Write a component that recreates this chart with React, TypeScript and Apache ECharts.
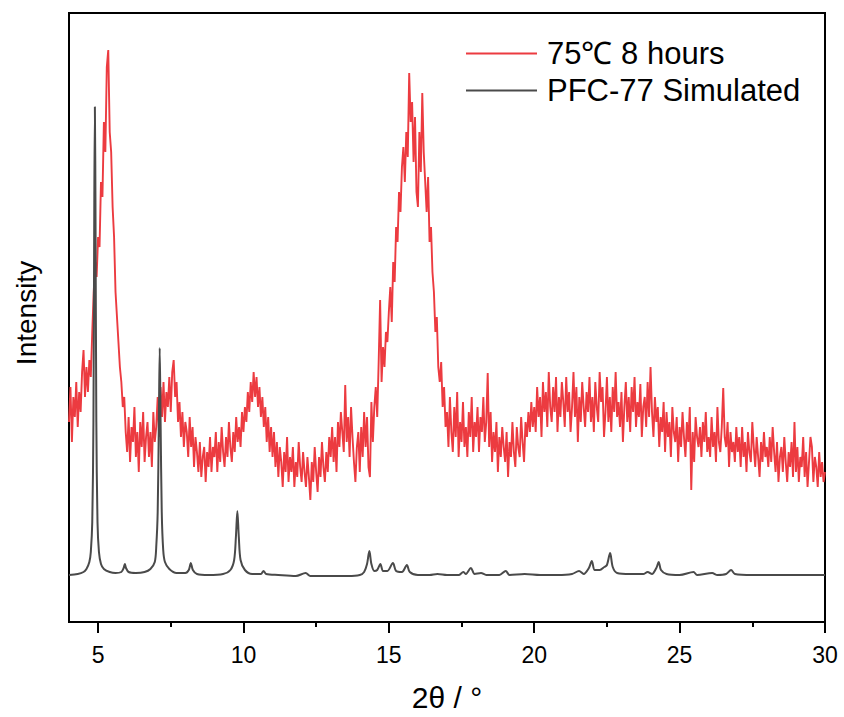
import React, { useEffect, useRef } from "react";
import * as echarts from "echarts";

// 2θ tick labels
const xTicks = [5, 10, 15, 20, 25, 30];
const xMinorTicks = [7.5, 12.5, 17.5, 22.5, 27.5];

// "75℃ 8 hours" pattern, sampled from 4.00° every 0.05°
const redStart = 4;
const redStep = 0.05;
const redValues = [
  200, 235, 180, 225, 205, 240, 195, 230, 210, 250, 272, 225, 255, 230, 262, 245, 290, 330, 360, 345,
  385, 375, 440, 425, 500, 470, 555, 572, 490, 470, 415, 385, 330, 305, 280, 255, 240, 215, 225, 190,
  170, 205, 160, 195, 180, 215, 165, 190, 150, 200, 175, 210, 160, 185, 200, 165, 190, 155, 210, 180,
  195, 225, 185, 235, 205, 240, 200, 230, 215, 245, 210, 250, 262, 225, 240, 200, 220, 185, 210, 175,
  200, 190, 165, 205, 175, 195, 155, 185, 170, 150, 180, 145, 165, 175, 140, 170, 155, 185, 150, 175,
  165, 190, 150, 180, 160, 195, 170, 155, 185, 165, 200, 175, 160, 190, 170, 205, 180, 195, 175, 210,
  190, 215, 200, 230, 210, 240, 220, 250, 225, 245, 215, 235, 205, 225, 195, 215, 180, 205, 170, 195,
  165, 190, 155, 180, 145, 175, 160, 135, 170, 150, 185, 140, 165, 150, 175, 135, 160, 145, 180, 155,
  140, 170, 150, 135, 165, 145, 122, 160, 140, 175, 150, 130, 165, 145, 180, 155, 140, 170, 150, 185,
  165, 195, 160, 185, 150, 200, 175, 210, 190, 170, 237, 180, 205, 165, 215, 185, 160, 140, 175, 190,
  150, 195, 165, 210, 175, 205, 155, 145, 220, 180, 215, 235, 205, 260, 322, 240, 275, 255, 290, 280,
  310, 335, 300, 360, 340, 395, 380, 430, 410, 455, 475, 440, 490, 465, 549, 500, 520, 460, 505, 430,
  415, 490, 450, 529, 470, 440, 410, 445, 380, 395, 350, 330, 290, 305, 255, 240, 260, 215, 235, 195,
  210, 175, 225, 190, 170, 215, 185, 230, 165, 200, 180, 220, 175, 195, 165, 210, 185, 225, 170, 200,
  185, 215, 170, 205, 190, 225, 180, 200, 249, 175, 210, 160, 190, 170, 200, 150, 185, 165, 195, 175,
  160, 190, 145, 180, 165, 200, 170, 155, 195, 175, 165, 205, 180, 160, 200, 185, 210, 190, 220, 195,
  215, 190, 235, 205, 225, 185, 240, 210, 230, 195, 250, 215, 200, 235, 210, 245, 190, 225, 205, 240,
  220, 195, 245, 210, 230, 190, 215, 250, 205, 235, 180, 225, 200, 240, 215, 195, 230, 210, 245, 200,
  225, 190, 240, 215, 200, 250, 220, 235, 185, 210, 245, 200, 225, 190, 235, 210, 250, 205, 220, 195,
  230, 180, 215, 240, 200, 225, 190, 235, 210, 245, 195, 220, 205, 238, 185, 215, 225, 195, 240, 205,
  255, 210, 185, 225, 200, 215, 175, 205, 190, 220, 170, 210, 185, 200, 165, 215, 190, 180, 205, 160,
  195, 175, 210, 185, 165, 200, 180, 215, 132, 190, 160, 205, 185, 175, 195, 165, 200, 180, 210, 170,
  185, 165, 205, 175, 190, 160, 215, 180, 170, 195, 234, 185, 175, 200, 155, 190, 170, 180, 160, 195,
  170, 185, 155, 195, 165, 180, 150, 190, 170, 160, 200, 175, 155, 185, 165, 145, 180, 160, 190, 165,
  175, 155, 185, 160, 195, 170, 150, 180, 140, 165, 175, 150, 185, 160, 140, 170, 155, 180, 145, 200,
  150, 175, 140, 165, 155, 185, 145, 170, 135, 160, 185, 175, 140, 165, 155, 135, 170, 145, 160, 140,
  150,
];

// PFC-77 simulated pattern: 2θ positions and intensities
const simX = [
  4.0, 4.3, 4.5, 4.6, 4.7, 4.75, 4.8, 4.84, 4.87, 4.89, 4.91, 4.94, 4.98, 5.03, 5.1, 5.2, 5.4, 5.6, 5.8,
  5.88, 5.92, 5.96, 6.05, 6.3, 6.6, 6.8, 6.95, 7.0, 7.05, 7.09, 7.12, 7.15, 7.19, 7.24, 7.3, 7.45, 7.7,
  8.0, 8.12, 8.19, 8.26, 8.4, 8.8, 9.3, 9.55, 9.68, 9.74, 9.79, 9.84, 9.9, 10.05, 10.3, 10.6, 10.69,
  10.78, 11.2, 11.8, 12.14, 12.3, 13.0, 13.6, 14.0, 14.15, 14.25, 14.33, 14.4, 14.5, 14.6, 14.71, 14.8,
  14.95, 15.14, 15.25, 15.45, 15.62, 15.72, 16.0, 16.4, 16.67, 17.0, 17.4, 17.56, 17.65, 17.82, 17.95,
  18.17, 18.35, 18.8, 19.02, 19.15, 19.67, 20.2, 20.8, 21.3, 21.54, 21.7, 21.88, 21.98, 22.08, 22.25,
  22.41, 22.5, 22.61, 22.7, 22.85, 23.3, 23.75, 23.9, 24.05, 24.2, 24.28, 24.36, 24.55, 25.0, 25.48,
  25.6, 26.12, 26.3, 26.6, 26.77, 26.9, 27.5, 28.5, 29.3, 30.0,
];
const simY = [
  47, 48, 50, 53, 60, 70, 100, 200, 420, 515, 420, 200, 100, 70, 58, 53, 50, 49, 50,
  54, 58, 54, 50, 49, 50, 53, 60, 75, 110, 200, 274, 200, 110, 72, 60, 53, 49,
  49, 52, 59, 52, 48, 47, 48, 52, 62, 85, 111, 85, 62, 52, 48, 48, 51,
  48, 47, 46, 49, 46, 46, 46, 47, 50, 58, 71, 58, 51, 52, 58, 51,
  51, 59, 51, 50, 57, 50, 47, 47, 48, 47, 47, 50, 48, 54, 48,
  49, 47, 47, 51, 47, 48, 47, 47, 48, 51, 48, 54, 61, 52, 52,
  55, 57, 69, 55, 49, 48, 48, 50, 48, 54, 60, 52, 48, 47, 50,
  47, 49, 47, 48, 52, 48, 47, 47, 47, 47,
];

const seriesNames = ["75℃ 8 hours", "PFC-77 Simulated"];
const FONT = "'Liberation Sans', Arial, sans-serif";
// legend line (71 wide) followed by a 5px empty gap so the text sits 10px after the line
const LEGEND_ICON = "path://M0,0L71,0L71,2L0,2Z M76,0L76,2";

export default function App() {
  const ref = useRef<HTMLDivElement>(null);
  useEffect(() => {
    if (!ref.current) return;
    const chart = echarts.init(ref.current, undefined, { renderer: "svg" });
    const redData = redValues.map((v, i) => [+(redStart + i * redStep).toFixed(2), v]);
    const simData = simX.map((x, i) => [x, simY[i]]);
    chart.setOption({
      animation: false,
      backgroundColor: "#fff",
      grid: {
        left: 69,
        right: 19,
        top: 13,
        bottom: 95,
        containLabel: false,
        outerBoundsMode: "none",
        show: true,
        borderColor: "#000",
        borderWidth: 2,
      },
      legend: {
        orient: "vertical",
        left: 461,
        top: 33,
        itemWidth: 76,
        itemHeight: 2,
        itemGap: 6,
        icon: LEGEND_ICON,
        textStyle: { fontFamily: FONT, fontSize: 31, color: "#000" },
        data: seriesNames,
      },
      xAxis: [
        {
          type: "value",
          min: 4,
          max: 30,
          name: "2θ / °",
          nameLocation: "middle",
          nameGap: 60,
          nameTextStyle: { fontFamily: FONT, fontSize: 30, color: "#000" },
          axisLine: { show: true, lineStyle: { color: "#000", width: 2 } },
          axisTick: {
            show: true,
            customValues: xTicks,
            length: 11,
            inside: false,
            lineStyle: { color: "#000", width: 2 },
          },
          axisLabel: {
            customValues: xTicks,
            margin: 21,
            fontFamily: FONT,
            fontSize: 23,
            color: "#000",
          },
          splitLine: { show: false },
        },
        {
          type: "value",
          min: 4,
          max: 30,
          position: "bottom",
          axisLine: { show: false },
          axisTick: {
            show: true,
            customValues: xMinorTicks,
            length: 5,
            inside: false,
            lineStyle: { color: "#000", width: 2 },
          },
          axisLabel: { show: false },
          splitLine: { show: false },
        },
      ],
      yAxis: {
        type: "value",
        min: 0,
        max: 609,
        axisLine: { show: true, lineStyle: { color: "#000", width: 2 } },
        axisTick: { show: false },
        axisLabel: { show: false },
        splitLine: { show: false },
      },
      graphic: [
        {
          type: "text",
          x: 26,
          y: 313,
          rotation: Math.PI / 2,
          style: {
            text: "Intensity",
            fontFamily: FONT,
            fontSize: 28,
            fill: "#000",
            align: "center",
            verticalAlign: "middle",
          },
        },
      ],
      series: [
        {
          name: seriesNames[0],
          type: "line",
          data: redData,
          showSymbol: false,
          symbol: "none",
          color: "#ec3b40",
          lineStyle: { color: "#ec3b40", width: 1.9 },
          z: 2,
        },
        {
          name: seriesNames[1],
          type: "line",
          data: simData,
          showSymbol: false,
          symbol: "none",
          smooth: 0.3,
          color: "#4a4a4a",
          lineStyle: { color: "#4a4a4a", width: 2 },
          z: 3,
        },
      ],
    });
    return () => chart.dispose();
  }, []);
  return (
    <div
      ref={ref}
      style={{ position: "absolute", left: 0, top: 0, width: 844, height: 717 }}
    />
  );
}
